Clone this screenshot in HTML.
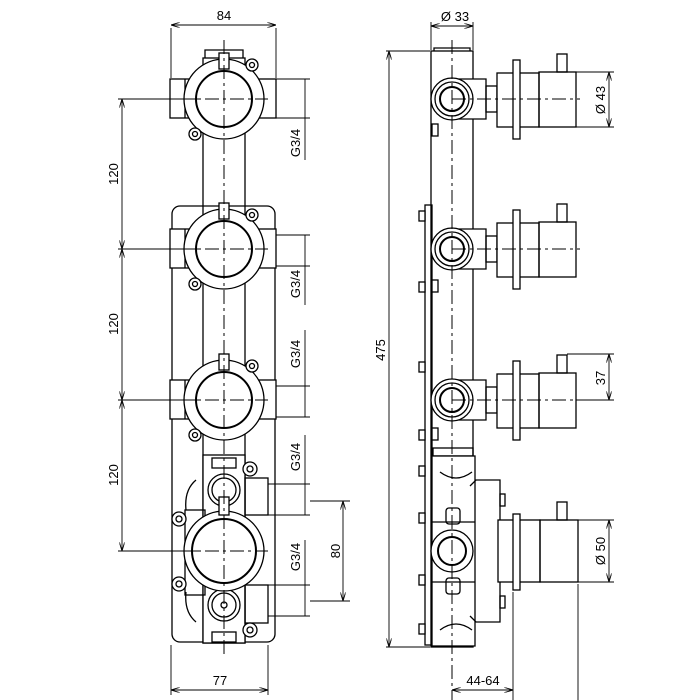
<!DOCTYPE html>
<html><head><style>body{margin:0;background:#fff}svg{display:block}</style></head><body>
<svg width="700" height="700" viewBox="0 0 700 700" xmlns="http://www.w3.org/2000/svg" font-family="Liberation Sans, sans-serif" font-size="13">
<defs>
<marker id="a" viewBox="0 0 10 6" refX="10" refY="3" markerWidth="10" markerHeight="6" orient="auto-start-reverse"><path d="M0,0 L10,3 L0,6" fill="none" stroke="#000" stroke-width="1"/></marker>
</defs>
<g fill="none" stroke="#000" stroke-width="1.3">
<!-- LEFT VIEW -->
<rect x="172" y="206" width="103" height="436" rx="8"/>
<rect x="203" y="58" width="42" height="585"/>
<path d="M205,58 v-8 h38 v8"/>
<!-- fittings -->
<g id="f1">
<rect x="170" y="79" width="106" height="39" fill="#fff"/>
<line x1="185" y1="79" x2="185" y2="118"/>
<circle cx="224" cy="99" r="40" fill="#fff"/>
<circle cx="224" cy="99" r="28" stroke-width="2"/>
<rect x="219" y="53" width="10" height="16" fill="#fff"/>
<circle cx="252" cy="65" r="6" fill="#fff"/><circle cx="252" cy="65" r="2.5"/>
<circle cx="195" cy="134" r="6" fill="#fff"/><circle cx="195" cy="134" r="2.5"/>
</g>
<use href="#f1" y="150"/>
<use href="#f1" y="301"/>
<!-- bottom valve -->
<rect x="203" y="455" width="42" height="188" fill="#fff"/>
<rect x="245" y="478" width="23" height="37"/>
<rect x="245" y="585" width="23" height="38"/>
<rect x="185" y="510" width="20" height="85"/>
<path d="M196,480 q-12,10 -10,30 M196,622 q-12,-10 -10,-30"/>
<circle cx="224" cy="490" r="16"/><circle cx="224" cy="490" r="12"/>
<circle cx="224" cy="605" r="16"/><circle cx="224" cy="605" r="12"/>
<circle cx="224" cy="605" r="3"/>
<circle cx="224" cy="551" r="40" fill="#fff"/>
<circle cx="224" cy="551" r="32" stroke-width="2"/>
<rect x="219" y="497" width="10" height="18" fill="#fff"/>
<rect x="212" y="458" width="24" height="10"/><rect x="212" y="632" width="24" height="10"/>
<g fill="#fff"><circle cx="250" cy="469" r="7"/><circle cx="179" cy="519" r="7"/><circle cx="179" cy="584" r="7"/><circle cx="250" cy="630" r="7"/></g>
<circle cx="250" cy="469" r="3"/><circle cx="179" cy="519" r="3"/><circle cx="179" cy="584" r="3"/><circle cx="250" cy="630" r="3"/>
<!-- centerline -->
<line x1="224" y1="40" x2="224" y2="655" stroke-width="1" stroke-dasharray="14,4,3,4"/>
<g stroke-width="1" stroke-dasharray="14,4,3,4"><line x1="180" y1="99" x2="268" y2="99"/><line x1="180" y1="249" x2="268" y2="249"/><line x1="180" y1="400" x2="268" y2="400"/><line x1="180" y1="551" x2="268" y2="551"/></g>
<!-- dims left -->
<g stroke-width="0.9">
<line x1="171" y1="28" x2="171" y2="78"/><line x1="276" y1="28" x2="276" y2="78"/>
<line x1="171" y1="25" x2="276" y2="25" marker-start="url(#a)" marker-end="url(#a)"/>
<line x1="118" y1="99" x2="200" y2="99"/><line x1="118" y1="249" x2="200" y2="249"/><line x1="118" y1="400" x2="200" y2="400"/><line x1="118" y1="551" x2="200" y2="551"/>
<line x1="122" y1="99" x2="122" y2="249" marker-start="url(#a)" marker-end="url(#a)"/>
<line x1="122" y1="249" x2="122" y2="400" marker-start="url(#a)" marker-end="url(#a)"/>
<line x1="122" y1="400" x2="122" y2="551" marker-start="url(#a)" marker-end="url(#a)"/>
<line x1="171" y1="645" x2="171" y2="695"/><line x1="268" y1="645" x2="268" y2="695"/>
<line x1="171" y1="690" x2="268" y2="690" marker-start="url(#a)" marker-end="url(#a)"/>
<!-- G3/4 -->
<line x1="276" y1="79" x2="310" y2="79"/><line x1="276" y1="118" x2="310" y2="118"/>
<line x1="305" y1="79" x2="305" y2="160"/>
<line x1="276" y1="235" x2="310" y2="235"/><line x1="276" y1="266" x2="310" y2="266"/>
<line x1="305" y1="235" x2="305" y2="305"/>
<line x1="276" y1="386" x2="310" y2="386"/><line x1="276" y1="417" x2="310" y2="417"/>
<line x1="305" y1="330" x2="305" y2="417"/>
<line x1="268" y1="484" x2="310" y2="484"/><line x1="268" y1="515" x2="310" y2="515"/>
<line x1="305" y1="435" x2="305" y2="515"/>
<line x1="268" y1="585" x2="310" y2="585"/><line x1="268" y1="616" x2="310" y2="616"/>
<line x1="305" y1="540" x2="305" y2="616"/>
<line x1="310" y1="501" x2="350" y2="501"/><line x1="310" y1="601" x2="350" y2="601"/>
<line x1="343" y1="501" x2="343" y2="601" marker-start="url(#a)" marker-end="url(#a)"/>
</g>
<!-- RIGHT VIEW -->
<rect x="425" y="205" width="7" height="440"/>
<rect x="431" y="51" width="42" height="596"/>
<path d="M434,51 v-3 h36 v3"/>
<g id="r1">
<path d="M452,79 h34 v40 h-34" fill="#fff"/>
<rect x="486" y="86" width="11" height="26"/>
<rect x="497" y="73" width="42" height="54" fill="#fff"/>
<rect x="513" y="60" width="7" height="79" fill="#fff"/>
<rect x="539" y="72" width="37" height="55"/>
<rect x="557" y="54" width="10" height="18"/>
<circle cx="452" cy="99" r="21" fill="#fff"/><circle cx="452" cy="99" r="17"/>
<circle cx="452" cy="99" r="12" stroke-width="2"/>
</g>
<use href="#r1" y="150"/>
<use href="#r1" y="301"/>
<!-- bolts -->
<g fill="#fff">
<rect x="419" y="211" width="6" height="10"/><rect x="419" y="282" width="6" height="10"/><rect x="432" y="280" width="6" height="12"/>
<rect x="419" y="362" width="6" height="10"/><rect x="419" y="430" width="6" height="10"/><rect x="432" y="428" width="6" height="12"/>
<rect x="419" y="466" width="6" height="10"/><rect x="419" y="513" width="6" height="10"/><rect x="419" y="575" width="6" height="10"/><rect x="419" y="624" width="6" height="10"/>
<rect x="432" y="124" width="6" height="12"/>
</g>
<rect x="433" y="448" width="40" height="8"/>
<rect x="432" y="456" width="43" height="190" fill="#fff"/>
<path d="M440,472 q16,12 32,0 M440,630 q16,-12 32,0"/>
<path d="M470,486 l6,-6 h24 v142 h-24 l-6,-6"/>
<rect x="500" y="494" width="5" height="12"/><rect x="500" y="596" width="5" height="12"/>
<rect x="498" y="520" width="42" height="62" fill="#fff"/>
<rect x="513" y="514" width="7" height="76" fill="#fff"/>
<rect x="540" y="520" width="38" height="62"/>
<rect x="557" y="502" width="10" height="18"/>
<line x1="432" y1="522" x2="475" y2="522"/><line x1="432" y1="582" x2="475" y2="582"/>
<rect x="446" y="508" width="14" height="16" rx="3"/><rect x="446" y="578" width="14" height="16" rx="3"/>
<circle cx="452" cy="551" r="21" fill="#fff"/><circle cx="452" cy="551" r="14" stroke-width="2"/>
<line x1="452" y1="40" x2="452" y2="700" stroke-width="1" stroke-dasharray="14,4,3,4"/>
<g stroke-width="1" stroke-dasharray="14,4,3,4"><line x1="452" y1="99" x2="580" y2="99"/><line x1="452" y1="249" x2="580" y2="249"/><line x1="452" y1="400" x2="580" y2="400"/></g>
<!-- right dims -->
<g stroke-width="0.9">
<line x1="431" y1="22" x2="431" y2="50"/><line x1="473" y1="22" x2="473" y2="50"/>
<line x1="431" y1="26" x2="473" y2="26" marker-start="url(#a)" marker-end="url(#a)"/>
<line x1="386" y1="51" x2="430" y2="51"/><line x1="386" y1="647" x2="430" y2="647"/>
<line x1="389" y1="51" x2="389" y2="647" marker-start="url(#a)" marker-end="url(#a)"/>
<line x1="576" y1="72" x2="614" y2="72"/><line x1="576" y1="127" x2="614" y2="127"/>
<line x1="609" y1="72" x2="609" y2="127" marker-start="url(#a)" marker-end="url(#a)"/>
<line x1="567" y1="354" x2="614" y2="354"/><line x1="576" y1="400" x2="614" y2="400"/>
<line x1="609" y1="354" x2="609" y2="400" marker-start="url(#a)" marker-end="url(#a)"/>
<line x1="578" y1="520" x2="614" y2="520"/><line x1="578" y1="582" x2="614" y2="582"/>
<line x1="609" y1="520" x2="609" y2="582" marker-start="url(#a)" marker-end="url(#a)"/>
<line x1="513" y1="592" x2="513" y2="700"/><line x1="578" y1="584" x2="578" y2="700"/>
<line x1="452" y1="690" x2="513" y2="690" marker-start="url(#a)" marker-end="url(#a)"/>
</g>
</g>
<g fill="#000" text-anchor="middle">
<text x="224" y="20">84</text>
<text x="220" y="685">77</text>
<text x="483" y="685">44-64</text>
<text x="455" y="21">Ø 33</text>
<text transform="translate(118,174) rotate(-90)">120</text>
<text transform="translate(118,324) rotate(-90)">120</text>
<text transform="translate(118,475) rotate(-90)">120</text>
<text transform="translate(300,143) rotate(-90)">G3/4</text>
<text transform="translate(300,284) rotate(-90)">G3/4</text>
<text transform="translate(300,354) rotate(-90)">G3/4</text>
<text transform="translate(300,457) rotate(-90)">G3/4</text>
<text transform="translate(300,557) rotate(-90)">G3/4</text>
<text transform="translate(340,551) rotate(-90)">80</text>
<text transform="translate(385,350) rotate(-90)">475</text>
<text transform="translate(605,100) rotate(-90)">Ø 43</text>
<text transform="translate(605,378) rotate(-90)">37</text>
<text transform="translate(605,551) rotate(-90)">Ø 50</text>
</g>
</svg>
</body></html>
